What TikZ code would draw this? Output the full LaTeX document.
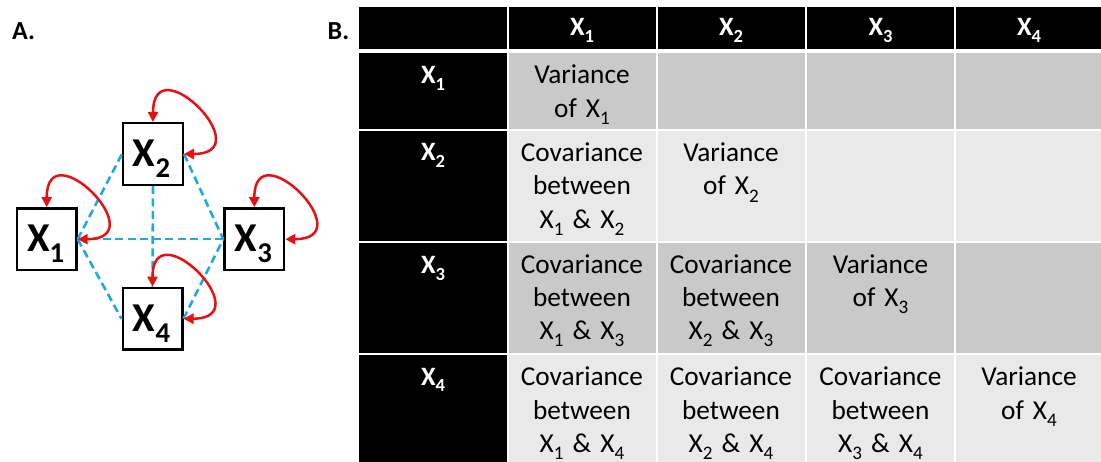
\documentclass[tikz,border=0pt]{standalone}
\usepackage{fontspec}
\setmainfont{Carlito}
\usetikzlibrary{arrows.meta}
\definecolor{cellgray}{RGB}{201,201,201}
\definecolor{celllight}{RGB}{233,233,233}
\definecolor{dashblue}{RGB}{32,168,224}
\definecolor{loopred}{RGB}{232,16,16}
% lowered, smaller index
\newcommand\subn[1]{\raisebox{-0.26em}{\scalebox{0.7}{#1}}}
% table cell: name, x1, y1, x2, y2, fill
\newcommand\tcell[6]{\node[tcellbox, fill=#6, minimum width={(#4)-(#2)}, minimum height={(#5)-(#3)}] (#1) at ({((#2)+(#4))/2},{((#3)+(#5))/2}) {};}
\begin{document}
\begin{tikzpicture}[x=1pt,y=-1pt,
  tcellbox/.style={rectangle, draw=white, line width=2pt, inner sep=0pt, outer sep=0pt},
  hdr/.style={text=white, font=\fontsize{26.5}{31}\selectfont\bfseries, anchor=base, inner sep=0pt},
  dat/.style={font=\fontsize{27.3}{33.3}\selectfont, text width=146pt, align=center, anchor=base, inner sep=0pt},
  var/.style={rectangle, draw=black, line width=2.4pt, fill=white, minimum width=59.6pt, minimum height=61.6pt, inner sep=0pt},
  varlbl/.style={font=\fontsize{41}{45}\selectfont\bfseries, anchor=base, inner sep=0pt},
  cov/.style={dashblue, line width=2.6pt, dash pattern=on 8pt off 4.5pt},
  self/.style={loopred, line width=2.5pt, {Triangle[length=10pt,width=10pt]}-{Triangle[length=10pt,width=10pt]}},
  panel/.style={font=\fontsize{26}{30}\selectfont\bfseries, anchor=base west, inner sep=0pt}]

\useasboundingbox (0,0) rectangle (1101,462);

% panel letters
\node[panel] (pA) at (12,39.5) {A.};
\node[panel] (pB) at (327.5,39.5) {B.};

% ---- A: variables ----
\node[var] (X1) at (46.7,239.2) {};
\node[var] (X2) at (153,154) {};
\node[var] (X3) at (254.3,239.2) {};
\node[var] (X4) at (152.5,318.7) {};

% covariances
\draw[cov] (X1.east) -- (X3.west);
\draw[cov] (X2.south) -- (X4.north);
\draw[cov] (X1.east) -- (X2.west);
\draw[cov] (X1.east) -- (X4.west);
\draw[cov] (X2.east) -- (X3.west);
\draw[cov] (X4.east) -- (X3.west);

\node[varlbl] (L1) at ([xshift=-1pt,yshift=-12.7pt]X1.center) {X\subn{1}};
\node[varlbl] (L2) at ([xshift=-1.5pt,yshift=-12.7pt]X2.center) {X\subn{2}};
\node[varlbl] (L3) at ([xshift=-1pt,yshift=-12.7pt]X3.center) {X\subn{3}};
\node[varlbl] (L4) at ([xshift=-1pt,yshift=-12.7pt]X4.center) {X\subn{4}};

% variances
\draw[self] (X1.north) .. controls +(0,-78) and +(78,0) .. (X1.east);
\draw[self] (X2.north) .. controls +(0,-78) and +(78,0) .. (X2.east);
\draw[self] (X3.north) .. controls +(0,-78) and +(78,0) .. (X3.east);
\draw[self] (X4.north) .. controls +(0,-78) and +(78,0) .. (X4.east);

% ---- B: covariance matrix ----
% header row
\tcell{h0}{358}{6}{507.5}{50.5}{black}
\tcell{h1}{507.5}{6}{656.5}{50.5}{black}
\tcell{h2}{656.5}{6}{805.5}{50.5}{black}
\tcell{h3}{805.5}{6}{955}{50.5}{black}
\tcell{h4}{955}{6}{1106}{50.5}{black}
% row 1
\tcell{r1}{358}{52.5}{507.5}{130}{black}
\tcell{c11}{507.5}{52.5}{656.5}{130}{cellgray}
\tcell{c12}{656.5}{52.5}{805.5}{130}{cellgray}
\tcell{c13}{805.5}{52.5}{955}{130}{cellgray}
\tcell{c14}{955}{52.5}{1106}{130}{cellgray}
% row 2
\tcell{r2}{358}{130}{507.5}{242}{black}
\tcell{c21}{507.5}{130}{656.5}{242}{celllight}
\tcell{c22}{656.5}{130}{805.5}{242}{celllight}
\tcell{c23}{805.5}{130}{955}{242}{celllight}
\tcell{c24}{955}{130}{1106}{242}{celllight}
% row 3
\tcell{r3}{358}{242}{507.5}{354}{black}
\tcell{c31}{507.5}{242}{656.5}{354}{cellgray}
\tcell{c32}{656.5}{242}{805.5}{354}{cellgray}
\tcell{c33}{805.5}{242}{955}{354}{cellgray}
\tcell{c34}{955}{242}{1106}{354}{cellgray}
% row 4
\tcell{r4}{358}{354}{507.5}{466}{black}
\tcell{c41}{507.5}{354}{656.5}{466}{celllight}
\tcell{c42}{656.5}{354}{805.5}{466}{celllight}
\tcell{c43}{805.5}{354}{955}{466}{celllight}
\tcell{c44}{955}{354}{1106}{466}{celllight}

% column headers
\node[hdr] (t1) at (582,36) {X\subn{1}};
\node[hdr] (t2) at (731,36) {X\subn{2}};
\node[hdr] (t3) at (880.5,36) {X\subn{3}};
\node[hdr] (t4) at (1029,36) {X\subn{4}};
% row headers
\node[hdr] (s1) at (433,83.5) {X\subn{1}};
\node[hdr] (s2) at (433,161) {X\subn{2}};
\node[hdr] (s3) at (433,273.3) {X\subn{3}};
\node[hdr] (s4) at (433,385) {X\subn{4}};

% entries
\node[dat] (e11) at (582,84) {Variance\\of X\subn{1}};
\node[dat] (e21) at (582,161.7) {Covariance\\between\\X\subn{1} \& X\subn{2}};
\node[dat] (e22) at (731,161.7) {Variance\\of X\subn{2}};
\node[dat] (e31) at (582,273.3) {Covariance\\between\\X\subn{1} \& X\subn{3}};
\node[dat] (e32) at (731,273.3) {Covariance\\between\\X\subn{2} \& X\subn{3}};
\node[dat] (e33) at (880.5,273.3) {Variance\\of X\subn{3}};
\node[dat] (e41) at (582,386) {Covariance\\between\\X\subn{1} \& X\subn{4}};
\node[dat] (e42) at (731,386) {Covariance\\between\\X\subn{2} \& X\subn{4}};
\node[dat] (e43) at (880.5,386) {Covariance\\between\\X\subn{3} \& X\subn{4}};
\node[dat] (e44) at (1029,386) {Variance\\of X\subn{4}};
\end{tikzpicture}
\end{document}
